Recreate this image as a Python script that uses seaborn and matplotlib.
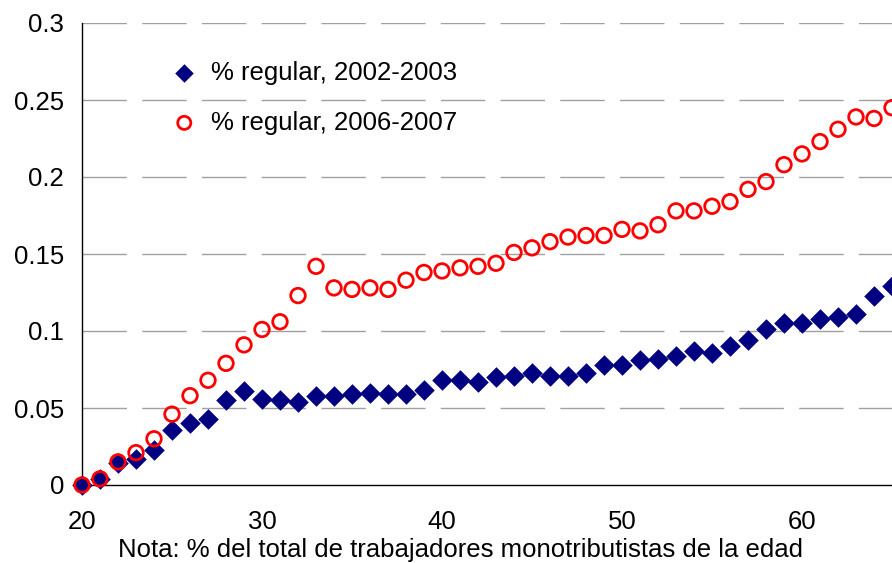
import numpy as np
import pandas as pd
import matplotlib
matplotlib.use("Agg")
import matplotlib.pyplot as plt
import seaborn as sns

# ── data ──────────────────────────────────────────────────
edad = list(range(20, 66))

reg_2002 = [0.000, 0.004, 0.014, 0.017, 0.023, 0.036, 0.040, 0.043, 0.055, 0.061,
            0.056, 0.055, 0.054, 0.058, 0.058, 0.059, 0.060, 0.059, 0.059, 0.062,
            0.068, 0.068, 0.067, 0.070, 0.071, 0.073, 0.071, 0.071, 0.073, 0.078,
            0.078, 0.081, 0.082, 0.084, 0.087, 0.086, 0.090, 0.094, 0.101, 0.105,
            0.105, 0.108, 0.109, 0.111, 0.123, 0.129]

reg_2006 = [0.000, 0.004, 0.015, 0.021, 0.030, 0.046, 0.058, 0.068, 0.079, 0.091,
            0.101, 0.106, 0.123, 0.142, 0.128, 0.127, 0.128, 0.127, 0.133, 0.138,
            0.139, 0.141, 0.142, 0.144, 0.151, 0.154, 0.158, 0.161, 0.162, 0.162,
            0.166, 0.165, 0.169, 0.178, 0.178, 0.181, 0.184, 0.192, 0.197, 0.208,
            0.215, 0.223, 0.231, 0.239, 0.238, 0.245]

label_2002 = "% regular, 2002-2003"
label_2006 = "% regular, 2006-2007"
nota = "Nota: % del total de trabajadores monotributistas de la edad"
yticks = [0, 0.05, 0.1, 0.15, 0.2, 0.25, 0.3]
yticklabels = ["0", "0.05", "0.1", "0.15", "0.2", "0.25", "0.3"]
xticks = [20, 30, 40, 50, 60]

df = pd.DataFrame({"edad": edad, "r2002": reg_2002, "r2006": reg_2006})

# ── figure ────────────────────────────────────────────────
sns.set_style("white")
plt.rcParams["font.family"] = ["Liberation Sans", "DejaVu Sans"]
plt.rcParams["text.color"] = "black"

fig = plt.figure(figsize=(8.92, 5.63), dpi=100)
ax = fig.add_axes([82 / 892, 78 / 563, 810 / 892, 462 / 563])

sns.scatterplot(data=df, x="edad", y="r2002", ax=ax, marker="D", s=110,
                color="#000080", edgecolor="#000080", linewidth=0,
                label=label_2002, zorder=3, clip_on=False)
sns.scatterplot(data=df, x="edad", y="r2006", ax=ax, marker="o", s=110,
                facecolor="none", edgecolor="#ff0000", linewidth=2,
                label=label_2006, zorder=4, clip_on=False)

ax.set_xlim(20, 65)
ax.set_ylim(0, 0.3)
ax.set_yticks(yticks)
ax.set_yticklabels(yticklabels)
ax.set_xticks(xticks)

# dashed horizontal gridlines
for y in yticks[1:]:
    ax.axhline(y, color="#a0a0a0", linewidth=1, linestyle=(0, (32, 11)), zorder=1)

for s in ["top", "right"]:
    ax.spines[s].set_visible(False)
for s in ["left", "bottom"]:
    ax.spines[s].set_color("black")
    ax.spines[s].set_linewidth(1)

ax.tick_params(axis="both", which="both", direction="out", length=5, width=1,
               color="black", labelsize=18.5, labelcolor="black")
ax.tick_params(axis="y", pad=8)
ax.tick_params(axis="x", pad=13)

ax.set_xlabel("")
ax.set_ylabel("")
fig.text(460 / 892, 1 - 550 / 563, nota, ha="center", va="center",
         fontsize=18.5, color="black")

leg = ax.legend(loc="upper left", bbox_to_anchor=(0.066, 0.968), frameon=False,
                fontsize=18.5, labelspacing=1.0, handletextpad=0.05, markerscale=0.9)
for t in leg.get_texts():
    t.set_color("black")

fig.savefig("out.png", dpi=100)
